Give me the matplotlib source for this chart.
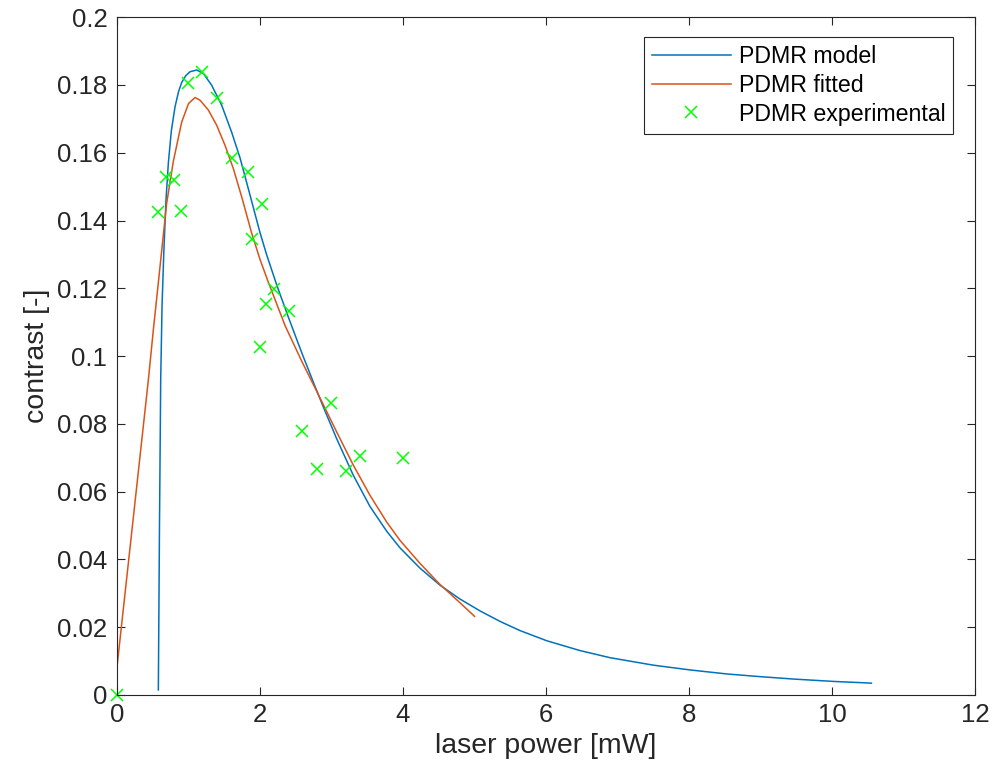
import matplotlib.pyplot as plt

plt.rcParams['font.family'] = ['Liberation Sans', 'DejaVu Sans']

# PDMR model curve
model_x = [0.578, 0.594, 0.611, 0.630, 0.655, 0.685, 0.718, 0.760, 0.811, 0.860, 0.904,
           0.960, 1.021, 1.114, 1.207, 1.324, 1.464, 1.604, 1.720, 1.850, 2.000,
           2.094, 2.233, 2.396, 2.583, 2.770, 2.885, 3.072, 3.305, 3.538, 3.772, 3.958,
           4.238, 4.517, 4.797, 5.077, 5.357, 5.636, 6.010, 6.475, 6.895, 7.500, 8.010,
           8.530, 9.000, 9.460, 10.02, 10.55]
model_y = [0.0015, 0.050, 0.093, 0.115, 0.131, 0.146, 0.157, 0.1665, 0.1735, 0.1780, 0.1807,
           0.1827, 0.1839, 0.1844, 0.1834, 0.1799, 0.1740, 0.1660, 0.1585, 0.1483, 0.1364,
           0.1298, 0.1210, 0.1115, 0.1010, 0.0910, 0.0850, 0.0756, 0.0648, 0.0556, 0.0483, 0.0434,
           0.0374, 0.0324, 0.0283, 0.0248, 0.0217, 0.0190, 0.0160, 0.0131, 0.0110, 0.0088, 0.0074,
           0.0062, 0.0054, 0.0047, 0.0040, 0.0035]

# PDMR fitted curve
fit_x = [0.0, 0.438, 0.508, 0.611, 0.694, 0.788, 0.904, 1.000, 1.091, 1.161, 1.277,
         1.394, 1.510, 1.627, 1.750, 1.884, 2.000, 2.116, 2.350, 2.583, 2.760, 2.863,
         3.072, 3.305, 3.538, 3.772, 3.958, 4.238, 4.517, 4.797, 5.000]
fit_y = [0.0083, 0.0929, 0.1077, 0.1283, 0.1450, 0.1575, 0.1690, 0.1745, 0.1763, 0.1755, 0.1726,
         0.1681, 0.1622, 0.1553, 0.1465, 0.1362, 0.1285, 0.1218, 0.1090, 0.0985, 0.0910, 0.0866,
         0.0776, 0.0678, 0.0589, 0.0510, 0.0456, 0.0388, 0.0326, 0.0272, 0.0232]

# PDMR experimental points
exp_x = [0.0, 0.57, 0.69, 0.80, 0.90, 0.99, 1.19, 1.40, 1.61, 1.83, 1.89,
         2.03, 2.0, 2.08, 2.2, 2.41, 2.59, 2.80, 2.99, 3.2, 3.4, 4.0]
exp_y = [0.0, 0.1425, 0.1528, 0.1519, 0.1428, 0.1805, 0.1838, 0.1761, 0.1584, 0.1543, 0.1345,
         0.1448, 0.1027, 0.1153, 0.1198, 0.1133, 0.0779, 0.0667, 0.0861, 0.0661, 0.0705, 0.0699]

fig = plt.figure(figsize=(9.95, 7.8), dpi=100)
ax = fig.add_axes([0.1176, 0.109, 0.8624, 0.869])

ax.plot(model_x, model_y, color='#0072BD', lw=1.1, label='PDMR model')
ax.plot(fit_x, fit_y, color='#D95319', lw=1.1, label='PDMR fitted')
ax.plot(exp_x, exp_y, 'x', color='#00FF00', markersize=9, mew=1.1,
        label='PDMR experimental', clip_on=False)

ax.set_xlim(0, 12)
ax.set_ylim(0, 0.2)
ax.set_xticks(range(0, 13, 2))
ax.set_yticks([i * 0.02 for i in range(11)])
ax.set_yticklabels(['0', '0.02', '0.04', '0.06', '0.08', '0.1', '0.12',
                    '0.14', '0.16', '0.18', '0.2'])

ax.tick_params(direction='in', top=True, right=True, length=6, width=0.8,
               labelsize=18.5, colors='#262626')
ax.tick_params(axis='y', pad=7)
ax.tick_params(axis='x', pad=6)
for s in ax.spines.values():
    s.set_color('#262626')
    s.set_linewidth(0.8)

ax.set_xlabel('laser power [mW]', fontsize=20.5, color='#262626', labelpad=4)
ax.set_ylabel('contrast [-]', fontsize=20.5, color='#262626', labelpad=5)

leg = ax.legend(loc='upper right', bbox_to_anchor=(0.9747, 0.971), borderaxespad=0,
                fontsize=16.7, fancybox=False, framealpha=1, edgecolor='#262626',
                handlelength=3.4, borderpad=0.35, labelspacing=0.25, handletextpad=0.35)
leg.get_frame().set_linewidth(0.8)

fig.savefig('out.png', dpi=100)
